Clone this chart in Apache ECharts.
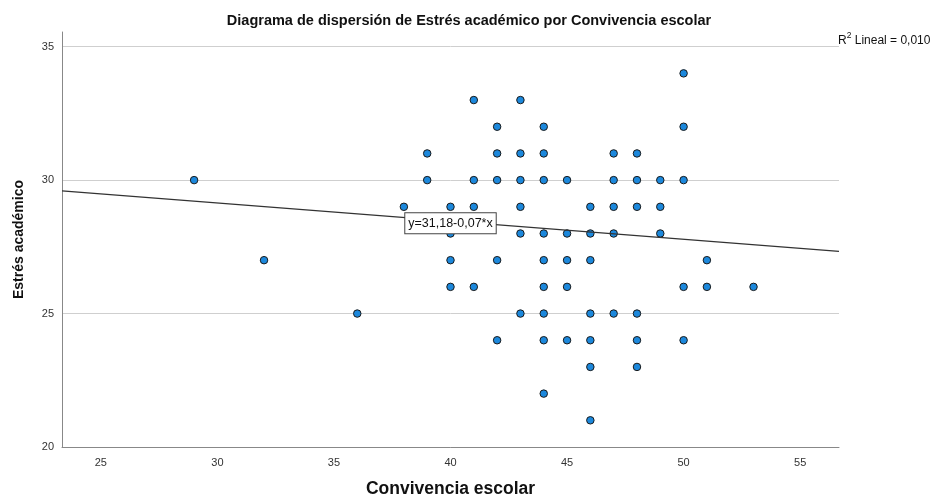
<!DOCTYPE html>
<html>
<head>
<meta charset="utf-8">
<script src="https://cdn.jsdelivr.net/npm/echarts@6/dist/echarts.min.js"></script>
<style>
  html, body { margin: 0; padding: 0; background: #fff; }
  #chart { width: 932px; height: 499px; }
</style>
</head>
<body>
<div id="chart"></div>
<script>
  // puntos (Convivencia escolar, Estres academico)
  const convivencia = [29, 32, 36, 38, 39, 39, 40, 40, 40, 40, 41, 41, 41, 41,
    42, 42, 42, 42, 42, 43, 43, 43, 43, 43, 43, 44, 44, 44, 44, 44, 44, 44, 44, 44,
    45, 45, 45, 45, 45, 46, 46, 46, 46, 46, 46, 46, 47, 47, 47, 47, 47,
    48, 48, 48, 48, 48, 48, 49, 49, 49, 50, 50, 50, 50, 50, 51, 51, 53]
  const estres = [30, 27, 25, 29, 31, 30, 29, 28, 27, 26, 33, 30, 29, 26,
    32, 31, 30, 27, 24, 33, 31, 30, 29, 28, 25, 32, 31, 30, 28, 27, 26, 25, 24, 22,
    30, 28, 27, 26, 24, 29, 28, 27, 25, 24, 23, 21, 31, 30, 29, 28, 25,
    31, 30, 29, 25, 24, 23, 30, 29, 28, 34, 32, 30, 26, 24, 27, 26, 26]

  const xTicks = [25, 30, 35, 40, 45, 50, 55]
  const yTicks = [20, 25, 30, 35]
  const xMin = 23.333, xMax = 56.667
  const yMin = 20, yMax = 35.55

  // recta de ajuste
  const intercept = 31.18
  const slope = -0.068
  const fitLabel = 'y=31,18-0,07*x'
  const r2Value = '0,010'

  const points = convivencia.map((x, i) => [x, estres[i]])
  const fit = x => intercept + slope * x
  const fitLine = [[xMin, fit(xMin)], [xMax, fit(xMax)]]

  const chart = echarts.init(document.getElementById('chart'), null, { renderer: 'canvas' })

  const font = 'Liberation Sans'

  const option = {
    animation: false,
    backgroundColor: '#fff',
    title: {
      text: 'Diagrama de dispersión de Estrés académico por Convivencia escolar',
      left: 464,
      textAlign: 'center',
      top: 8,
      textStyle: { fontFamily: font, fontSize: 14.5, fontWeight: 'bold', color: '#111' }
    },
    grid: { left: 62, right: 93, top: 32, bottom: 52, outerBoundsMode: 'none', containLabel: false },
    xAxis: {
      type: 'value',
      min: xMin,
      max: xMax,
      name: 'Convivencia escolar',
      nameLocation: 'middle',
      nameGap: 33,
      nameTextStyle: { fontFamily: font, fontSize: 17.5, fontWeight: 'bold', color: '#111' },
      axisLine: { lineStyle: { color: '#888', width: 1 } },
      axisTick: { show: false, customValues: xTicks },
      axisLabel: { customValues: xTicks, color: '#333', fontSize: 11, fontFamily: font, margin: 10 },
      splitLine: { show: false }
    },
    yAxis: {
      type: 'value',
      min: yMin,
      max: yMax,
      name: 'Estrés académico',
      nameLocation: 'middle',
      nameRotate: 90,
      nameGap: 36,
      nameTextStyle: { fontFamily: font, fontSize: 14, fontWeight: 'bold', color: '#111', padding: [0, 0, 0, 0] },
      axisLine: { show: true, lineStyle: { color: '#888', width: 1 } },
      axisTick: { show: false, customValues: yTicks },
      axisLabel: { customValues: yTicks, color: '#333', fontSize: 11, fontFamily: font, margin: 8 },
      splitLine: { show: true, lineStyle: { color: '#cfcfcf', width: 1 } }
    },
    graphic: [{
      type: 'text',
      left: 838,
      top: 31,
      style: {
        text: '{r|R}{s|2}{t| Lineal = ' + r2Value + '}',
        rich: {
          r: { fontSize: 12, fontFamily: font, fill: '#111', lineHeight: 16, verticalAlign: 'bottom' },
          s: { fontSize: 8.5, fontFamily: font, fill: '#111', lineHeight: 16, verticalAlign: 'top' },
          t: { fontSize: 12, fontFamily: font, fill: '#111', lineHeight: 16, verticalAlign: 'bottom' }
        }
      }
    }],
    series: [
      {
        type: 'line',
        data: fitLine,
        symbol: 'none',
        silent: true,
        lineStyle: { color: '#333', width: 1.2 },
        z: 3,
        markPoint: {
          symbolSize: 0,
          data: [{ coord: [40, fit(40)] }],
          label: {
            show: true,
            position: 'inside',
            offset: [0, 2],
            formatter: fitLabel,
            color: '#111',
            fontSize: 12.5,
            fontFamily: font,
            backgroundColor: '#fff',
            borderColor: '#444',
            borderWidth: 1,
            padding: [4, 3, 3, 3]
          }
        }
      },
      {
        type: 'scatter',
        data: points,
        symbol: 'circle',
        symbolSize: 7.5,
        itemStyle: { color: '#1c88dc', borderColor: '#1a1a1a', borderWidth: 1, opacity: 1 },
        z: 2
      }
    ]
  }

  chart.setOption(option)
</script>
</body>
</html>
